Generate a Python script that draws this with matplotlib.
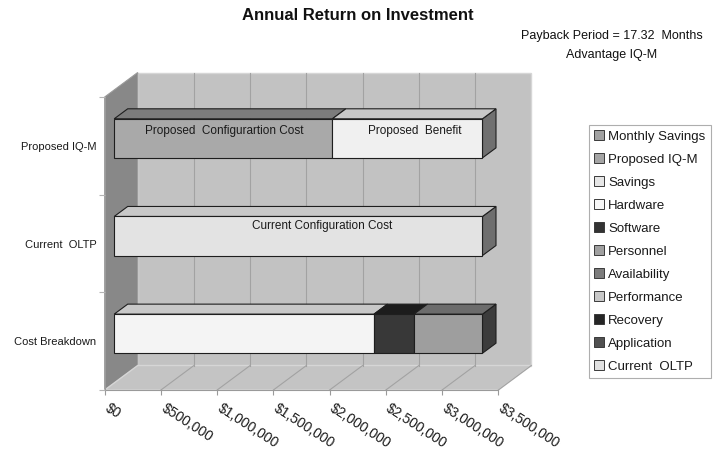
import matplotlib
matplotlib.use("Agg")
import matplotlib.pyplot as plt
from matplotlib.patches import Polygon, Patch
from matplotlib.lines import Line2D
from matplotlib.transforms import ScaledTranslation

plt.rcParams["font.family"] = ["Liberation Sans", "DejaVu Sans"]

# ---- data ---------------------------------------------------------------
categories = ["Cost Breakdown", "Current  OLTP", "Proposed IQ-M"]

breakdown_names = ["Hardware", "Software", "Personnel"]
breakdown_values = [2310000, 355000, 610000]

current_names = ["Current Configuration Cost"]
current_values = [3275000]

proposed_names = ["Proposed  Configurartion Cost", "Proposed  Benefit"]
proposed_values = [1940000, 1335000]

x_ticks = [0, 500000, 1000000, 1500000, 2000000, 2500000, 3000000, 3500000]
x_tick_labels = ["$0", "$500,000", "$1,000,000", "$1,500,000", "$2,000,000",
                 "$2,500,000", "$3,000,000", "$3,500,000"]

legend_names = ["Monthly Savings", "Proposed IQ-M", "Savings", "Hardware",
                "Software", "Personnel", "Availability", "Performance",
                "Recovery", "Application", "Current  OLTP"]
legend_colors = ["#a2a2a2", "#a4a4a4", "#e6e6e6", "#f8f8f8", "#333333",
                 "#a0a0a0", "#7c7c7c", "#c8c8c8", "#262626", "#505050",
                 "#e0e0e0"]

# ---- figure / front plane axes -------------------------------------------
DPI = 100
fig = plt.figure(figsize=(7.2, 4.5), dpi=DPI)
AX_L, AX_B, AX_W, AX_H = 104.7, 60.0, 393.6, 293.0   # pixels
ax = fig.add_axes([AX_L / 720, AX_B / 450, AX_W / 720, AX_H / 450])
XMAX = x_ticks[-1]
ax.set_xlim(0, XMAX)
ax.set_ylim(-0.5, len(categories) - 0.5)
YTOP = len(categories) - 0.5

ux = XMAX / AX_W          # data units per pixel (x)
uy = len(categories) / AX_H  # data units per pixel (y)


def off(px_x, px_y):
    return px_x * ux, px_y * uy


WX, WY = off(33, 24.5)     # depth of the whole plot box
FX, FY = off(9.5, 7.5)     # bar front plane inside the box
DX, DY = off(13.5, 10.0)   # bar depth
BAR_H = 0.4

poly_kw = dict(clip_on=False, joinstyle="miter")

# walls and floor
wall_c = "#c2c2c2"
ax.add_patch(Polygon([(WX, -0.5 + WY), (XMAX + WX, -0.5 + WY),
                      (XMAX + WX, YTOP + WY), (WX, YTOP + WY)],
                     fc=wall_c, ec="#d6d6d6", lw=1.0, zorder=0.5, **poly_kw))
ax.add_patch(Polygon([(0, -0.5), (WX, -0.5 + WY), (WX, YTOP + WY), (0, YTOP)],
                     fc="#888888", ec="#9a9a9a", lw=0.8, zorder=0.6, **poly_kw))
ax.add_patch(Polygon([(0, -0.5), (XMAX, -0.5), (XMAX + WX, -0.5 + WY),
                      (WX, -0.5 + WY)],
                     fc="#c4c4c4", ec="#d6d6d6", lw=1.0, zorder=0.6, **poly_kw))
grid_c = "#a2a2a2"
for t in x_ticks[1:-1]:
    ax.add_line(Line2D([t + WX, t + WX], [-0.5 + WY, YTOP + WY], color=grid_c,
                       lw=0.8, zorder=0.7, clip_on=False))
for t in x_ticks[1:]:
    ax.add_line(Line2D([t, t + WX], [-0.5, -0.5 + WY], color=grid_c,
                       lw=0.8, zorder=0.7, clip_on=False))

# bars
edge = "#1e1e1e"


def segment(y, x0, x1, face, top, side, show_side):
    yb, yt = y - BAR_H / 2 + FY, y + BAR_H / 2 + FY
    a, b = x0 + FX, x1 + FX
    if show_side:
        ax.add_patch(Polygon([(b, yb), (b + DX, yb + DY), (b + DX, yt + DY),
                              (b, yt)], fc=side, ec=edge, lw=0.8, zorder=3,
                             **poly_kw))
    ax.add_patch(Polygon([(a, yt), (b, yt), (b + DX, yt + DY), (a + DX, yt + DY)],
                         fc=top, ec=edge, lw=0.8, zorder=3, **poly_kw))
    ax.add_patch(Polygon([(a, yb), (b, yb), (b, yt), (a, yt)],
                         fc=face, ec=edge, lw=0.8, zorder=3, **poly_kw))


def stack(y, values, styles):
    left = 0
    for i, (v, st) in enumerate(zip(values, styles)):
        segment(y, left, left + v, *st, show_side=(i == len(values) - 1))
        left += v


stack(0, breakdown_values, [("#f4f4f4", "#c8c8c8", "#5a5a5a"),
                            ("#383838", "#1c1c1c", "#2a2a2a"),
                            ("#9e9e9e", "#6c6c6c", "#3c3c3c")])
stack(1, current_values, [("#e3e3e3", "#c8c8c8", "#6e6e6e")])
stack(2, proposed_values, [("#a9a9a9", "#7c7c7c", "#5a5a5a"),
                           ("#f0f0f0", "#c8c8c8", "#707070")])

# labels written on the bars
bar_text_kw = dict(ha="center", va="center", fontsize=8.5, color="#1a1a1a",
                   zorder=5)
ax.text(976000 + FX, 2.08 + FY, proposed_names[0], **bar_text_kw)
ax.text(2675000 + FX, 2.08 + FY, proposed_names[1], **bar_text_kw)
ax.text(1848000 + FX, 1.107 + FY, current_names[0], **bar_text_kw)

# axes, ticks and tick labels
for s in ("top", "right"):
    ax.spines[s].set_visible(False)
for s in ("left", "bottom"):
    ax.spines[s].set_color("#9a9a9a")
    ax.spines[s].set_linewidth(0.8)
    ax.spines[s].set_zorder(1)
ax.patch.set_visible(False)

ax.set_xticks(x_ticks)
ax.set_xticklabels(x_tick_labels, rotation=-33, ha="left", va="top",
                   rotation_mode="anchor", fontsize=10, color="#1a1a1a")
ax.tick_params(axis="x", direction="out", length=3.6, width=0.8,
               color="#9a9a9a", pad=4.5)
shift = ScaledTranslation(5.5 / DPI, 0, fig.dpi_scale_trans)
for lab in ax.get_xticklabels():
    lab.set_transform(lab.get_transform() + shift)

ax.set_yticks(range(len(categories)))
ax.set_yticklabels(categories, fontsize=8, color="#1a1a1a")
ax.set_yticks([-0.5, 0.5, 1.5, 2.5], minor=True)
ax.tick_params(axis="y", which="major", length=0, pad=6)
ax.tick_params(axis="y", which="minor", direction="out", length=4,
               width=0.8, color="#b4b4b4")

# titles
fig.text(358 / 720, 1 - 16 / 450, "Annual Return on Investment",
         ha="center", va="center", fontsize=12, fontweight="bold",
         color="#111111")
fig.text(612 / 720, 1 - 36.5 / 450, "Payback Period = 17.32  Months",
         ha="center", va="center", fontsize=9, color="#111111")
fig.text(612 / 720, 1 - 55 / 450, "Advantage IQ-M",
         ha="center", va="center", fontsize=9, color="#111111")

# legend
handles = [Patch(facecolor=c, edgecolor="#3a3a3a", linewidth=0.7)
           for c in legend_colors]
leg = fig.legend(handles, legend_names, loc="upper left",
                 bbox_to_anchor=(589 / 720, 1 - 125 / 450),
                 borderaxespad=0, fontsize=9.5, frameon=True, fancybox=False,
                 handlelength=0.75, handleheight=0.75, handletextpad=0.3,
                 labelspacing=0.8, borderpad=0.4)
leg.get_frame().set_edgecolor("#9a9a9a")
leg.get_frame().set_linewidth(0.8)
for t in leg.get_texts():
    t.set_color("#1a1a1a")

fig.savefig("out.png", dpi=DPI, facecolor="white")
